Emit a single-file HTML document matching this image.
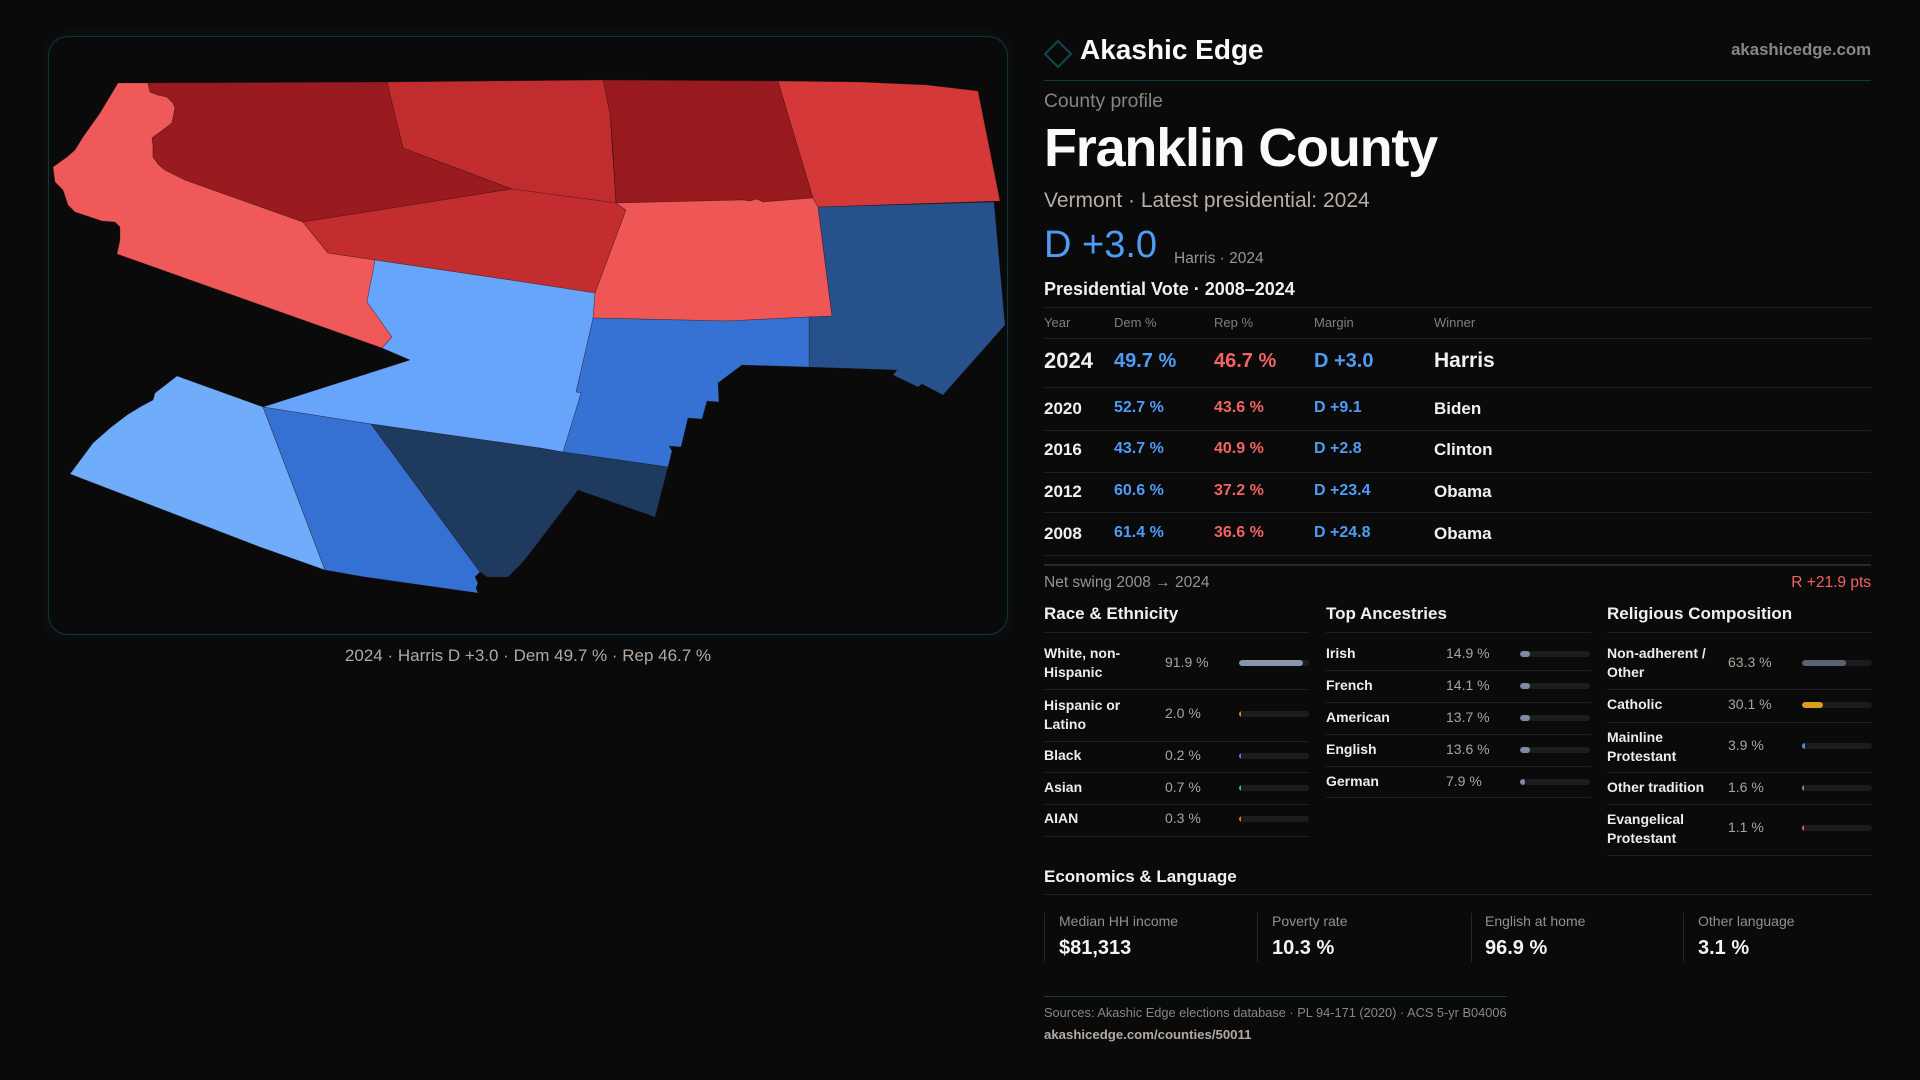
<!DOCTYPE html>
<html><head><meta charset="utf-8">
<style>
*{margin:0;padding:0;box-sizing:border-box}
html,body{width:1920px;height:1080px;background:#0a0a0b;overflow:hidden}
body{font-family:"Liberation Sans",sans-serif;color:#f2efec;position:relative}
.t{position:absolute;white-space:nowrap;line-height:1}
.b{font-weight:bold}
.r{position:absolute;height:1px;background:#1f1f21}
.lab{position:absolute;font-size:14px;line-height:19px;font-weight:bold;color:#efebe7;white-space:nowrap}
.val{position:absolute;font-size:14px;line-height:19px;color:#aca39a;white-space:nowrap}
.trk{position:absolute;width:70px;height:6px;border-radius:3px;background:#1c1c1e;overflow:hidden}
.fil{position:absolute;left:0;top:0;height:6px;border-radius:3px}
.blue{color:#4f9cf6}.red{color:#f26363}
.sb{position:absolute;top:913px;height:49px;border-left:1px solid #262628}
.sl{position:absolute;font-size:14px;color:#978f88;top:914px;white-space:nowrap;line-height:1}
.sv{position:absolute;font-size:20px;font-weight:bold;color:#f5f2ef;top:938px;white-space:nowrap;line-height:1}
</style></head><body>

<!-- Map panel -->
<div style="position:absolute;left:48px;top:36px;width:960px;height:599px;border:1px solid #12363d;border-radius:20px;background:#0b0a0b;box-shadow:0 0 14px rgba(20,80,95,0.18)"></div>
<svg style="position:absolute;left:0;top:0" width="1010" height="640" viewBox="0 0 1010 640">
<g stroke="rgba(40,20,20,0.5)" stroke-width="0.6" stroke-linejoin="round">
<polygon fill="#f05959" points="118,83 148,83 150,92 158,95 167,97 173,103 175,108 172,123 163,130 152,138 153,145 153,157 158,164 165,170 185,180 303,222 328,253 375,260 367,302 392,337 382,348 117,254 120,240 120,227 115,222 102,221 90,217 75,212 68,205 63,190 55,182 53,167 60,162 67,157 75,150 83,137 100,113"/>
<polygon fill="#991b1f" points="148,83 387,82 403,148 512,189 303,222 185,180 165,170 158,164 153,157 153,145 152,138 163,130 172,123 175,108 173,103 167,97 158,95 150,92"/>
<polygon fill="#c12c2f" points="387,82 603,80 610,113 616,203 512,189 403,148"/>
<polygon fill="#c42d30" points="303,222 512,189 616,203 626,210 595,293 510,280 375,260 328,253"/>
<polygon fill="#991a1e" points="603,80 778,81 813,198 763,202 757,199 750,201 743,200 616,203 613,150 610,113"/>
<polygon fill="#d43838" points="778,81 860,82 927,85 978,91 1000,201 818,207 813,198"/>
<polygon fill="#ef5656" points="616,203 743,200 750,201 757,199 763,202 813,198 818,207 832,316 808,317 727,321 593,318 595,293 626,210"/>
<polygon fill="#26518c" points="818,207 994,202 1005,325 943,395 922,384 918,387 893,375 897,370 809,367 809,317 832,316"/>
<polygon fill="#3672d3" points="593,318 727,321 809,317 809,367 742,365 718,383 719,402 707,401 702,419 688,418 681,447 669,446 672,451 668,467 563,452 581,393 576,392"/>
<polygon fill="#67a5fa" points="375,260 510,280 595,293 593,318 576,392 581,393 563,452 540,448 371,424 263,407 410,360 382,348 392,337 367,302"/>
<polygon fill="#6facfa" points="177,376 263,407 325,570 260,547 70,474 93,443 110,428 127,415 140,407 153,400 155,393"/>
<polygon fill="#3471d2" points="263,407 371,424 480,572 475,577 478,583 476,588 478,593 365,577 325,570"/>
<polygon fill="#1e3a5e" points="371,424 540,448 563,452 668,467 655,517 578,490 527,557 520,565 508,577 487,577 480,572"/>
</g>
</svg>
<div class="t" style="left:0;width:1056px;text-align:center;top:647px;font-size:17px;color:#b2aaa2">2024 · Harris D +3.0 · Dem 49.7 % · Rep 46.7 %</div>

<!-- Header -->
<svg style="position:absolute;left:1043px;top:39px" width="30" height="30" viewBox="0 0 30 30"><polygon points="15,2 28,15 15,28 2,15" fill="none" stroke="#0f4a52" stroke-width="2"/></svg>
<div class="t b" style="left:1080px;top:36px;font-size:28px;color:#fbfaf8">Akashic Edge</div>
<div class="t b" style="right:49px;top:42px;font-size:16.8px;color:#8c8580">akashicedge.com</div>
<div class="r" style="left:1044px;top:80px;width:827px;background:#103a42"></div>
<div class="t" style="left:1044px;top:92px;font-size:19.3px;color:#8a847f">County profile</div>
<div class="t b" style="left:1044px;top:121px;font-size:54px;letter-spacing:-1.2px;color:#fbfaf8">Franklin County</div>
<div class="t" style="left:1044px;top:190px;font-size:21px;color:#b8aea6">Vermont · Latest presidential: 2024</div>
<div class="t blue" style="left:1044px;top:226px;font-size:38px">D +3.0</div>
<div class="t" style="left:1174px;top:250.5px;font-size:15.5px;color:#9d958e">Harris · 2024</div>
<div class="t b" style="left:1044px;top:280px;font-size:18px">Presidential Vote · 2008–2024</div>

<!-- Table -->
<div class="r" style="left:1044px;top:307px;width:827px"></div>
<div class="t" style="left:1044px;top:316px;font-size:13px;color:#857e78">Year</div>
<div class="t" style="left:1114px;top:316px;font-size:13px;color:#857e78">Dem %</div>
<div class="t" style="left:1214px;top:316px;font-size:13px;color:#857e78">Rep %</div>
<div class="t" style="left:1314px;top:316px;font-size:13px;color:#857e78">Margin</div>
<div class="t" style="left:1434px;top:316px;font-size:13px;color:#857e78">Winner</div>
<div class="r" style="left:1044px;top:338px;width:827px"></div>

<div class="t b" style="left:1044px;top:350px;font-size:22px">2024</div>
<div class="t b blue" style="left:1114px;top:351px;font-size:20px">49.7 %</div>
<div class="t b red" style="left:1214px;top:351px;font-size:20px">46.7 %</div>
<div class="t b blue" style="left:1314px;top:351px;font-size:20px">D +3.0</div>
<div class="t b" style="left:1434px;top:350px;font-size:21px">Harris</div>
<div class="r" style="left:1044px;top:387px;width:827px"></div>

<div class="t b" style="left:1044px;top:400px;font-size:17px">2020</div>
<div class="t b blue" style="left:1114px;top:400px;font-size:16px">52.7 %</div>
<div class="t b red" style="left:1214px;top:400px;font-size:16px">43.6 %</div>
<div class="t b blue" style="left:1314px;top:400px;font-size:16px">D +9.1</div>
<div class="t b" style="left:1434px;top:400px;font-size:17px">Biden</div>
<div class="r" style="left:1044px;top:430px;width:827px"></div>

<div class="t b" style="left:1044px;top:441px;font-size:17px">2016</div>
<div class="t b blue" style="left:1114px;top:441px;font-size:16px">43.7 %</div>
<div class="t b red" style="left:1214px;top:441px;font-size:16px">40.9 %</div>
<div class="t b blue" style="left:1314px;top:441px;font-size:16px">D +2.8</div>
<div class="t b" style="left:1434px;top:441px;font-size:17px">Clinton</div>
<div class="r" style="left:1044px;top:472px;width:827px"></div>

<div class="t b" style="left:1044px;top:483px;font-size:17px">2012</div>
<div class="t b blue" style="left:1114px;top:483px;font-size:16px">60.6 %</div>
<div class="t b red" style="left:1214px;top:483px;font-size:16px">37.2 %</div>
<div class="t b blue" style="left:1314px;top:483px;font-size:16px">D +23.4</div>
<div class="t b" style="left:1434px;top:483px;font-size:17px">Obama</div>
<div class="r" style="left:1044px;top:512px;width:827px"></div>

<div class="t b" style="left:1044px;top:525px;font-size:17px">2008</div>
<div class="t b blue" style="left:1114px;top:525px;font-size:16px">61.4 %</div>
<div class="t b red" style="left:1214px;top:525px;font-size:16px">36.6 %</div>
<div class="t b blue" style="left:1314px;top:525px;font-size:16px">D +24.8</div>
<div class="t b" style="left:1434px;top:525px;font-size:17px">Obama</div>
<div class="r" style="left:1044px;top:555px;width:827px"></div>
<div class="r" style="left:1044px;top:564px;width:827px;height:2px;background:#29292b"></div>

<div class="t" style="left:1044px;top:574.5px;font-size:15.5px;color:#9a938d">Net swing 2008 → 2024</div>
<div class="t red" style="right:49px;top:574.5px;font-size:15.5px">R +21.9 pts</div>

<!-- Race -->
<div class="t b" style="left:1044px;top:605px;font-size:17px">Race &amp; Ethnicity</div>
<div class="r" style="left:1044px;top:632px;width:265px"></div>
<div class="lab" style="left:1044px;top:644px">White, non-<br>Hispanic</div>
<div class="val" style="left:1165px;top:653px">91.9 %</div>
<div class="trk" style="left:1239px;top:660px"><div class="fil" style="width:64px;background:#8996aa"></div></div>
<div class="r" style="left:1044px;top:689px;width:265px"></div>
<div class="lab" style="left:1044px;top:696px">Hispanic or<br>Latino</div>
<div class="val" style="left:1165px;top:704px">2.0 %</div>
<div class="trk" style="left:1239px;top:711px"><div class="fil" style="width:2px;background:#d9880f"></div></div>
<div class="r" style="left:1044px;top:741px;width:265px"></div>
<div class="lab" style="left:1044px;top:746px">Black</div>
<div class="val" style="left:1165px;top:746px">0.2 %</div>
<div class="trk" style="left:1239px;top:753px"><div class="fil" style="width:2px;background:#8b5cf6"></div></div>
<div class="r" style="left:1044px;top:772px;width:265px"></div>
<div class="lab" style="left:1044px;top:778px">Asian</div>
<div class="val" style="left:1165px;top:778px">0.7 %</div>
<div class="trk" style="left:1239px;top:785px"><div class="fil" style="width:2px;background:#22c08e"></div></div>
<div class="r" style="left:1044px;top:804px;width:265px"></div>
<div class="lab" style="left:1044px;top:809px">AIAN</div>
<div class="val" style="left:1165px;top:809px">0.3 %</div>
<div class="trk" style="left:1239px;top:816px"><div class="fil" style="width:2px;background:#e07a12"></div></div>
<div class="r" style="left:1044px;top:836px;width:265px"></div>

<!-- Ancestries -->
<div class="t b" style="left:1326px;top:605px;font-size:17px">Top Ancestries</div>
<div class="r" style="left:1326px;top:632px;width:265px"></div>
<div class="lab" style="left:1326px;top:644px">Irish</div>
<div class="val" style="left:1446px;top:644px">14.9 %</div>
<div class="trk" style="left:1520px;top:651px"><div class="fil" style="width:10px;background:#7d8ba0"></div></div>
<div class="r" style="left:1326px;top:670px;width:265px"></div>
<div class="lab" style="left:1326px;top:676px">French</div>
<div class="val" style="left:1446px;top:676px">14.1 %</div>
<div class="trk" style="left:1520px;top:683px"><div class="fil" style="width:10px;background:#7d8ba0"></div></div>
<div class="r" style="left:1326px;top:702px;width:265px"></div>
<div class="lab" style="left:1326px;top:708px">American</div>
<div class="val" style="left:1446px;top:708px">13.7 %</div>
<div class="trk" style="left:1520px;top:715px"><div class="fil" style="width:10px;background:#7d8ba0"></div></div>
<div class="r" style="left:1326px;top:734px;width:265px"></div>
<div class="lab" style="left:1326px;top:740px">English</div>
<div class="val" style="left:1446px;top:740px">13.6 %</div>
<div class="trk" style="left:1520px;top:747px"><div class="fil" style="width:10px;background:#7d8ba0"></div></div>
<div class="r" style="left:1326px;top:766px;width:265px"></div>
<div class="lab" style="left:1326px;top:772px">German</div>
<div class="val" style="left:1446px;top:772px">7.9 %</div>
<div class="trk" style="left:1520px;top:779px"><div class="fil" style="width:5px;background:#7d8ba0"></div></div>
<div class="r" style="left:1326px;top:797px;width:265px"></div>

<!-- Religion -->
<div class="t b" style="left:1607px;top:605px;font-size:17px">Religious Composition</div>
<div class="r" style="left:1607px;top:632px;width:265px"></div>
<div class="lab" style="left:1607px;top:644px">Non-adherent /<br>Other</div>
<div class="val" style="left:1728px;top:653px">63.3 %</div>
<div class="trk" style="left:1802px;top:660px"><div class="fil" style="width:44px;background:#5d6272"></div></div>
<div class="r" style="left:1607px;top:689px;width:265px"></div>
<div class="lab" style="left:1607px;top:695px">Catholic</div>
<div class="val" style="left:1728px;top:695px">30.1 %</div>
<div class="trk" style="left:1802px;top:702px"><div class="fil" style="width:21px;background:#d6a21e"></div></div>
<div class="r" style="left:1607px;top:722px;width:265px"></div>
<div class="lab" style="left:1607px;top:728px">Mainline<br>Protestant</div>
<div class="val" style="left:1728px;top:736px">3.9 %</div>
<div class="trk" style="left:1802px;top:743px"><div class="fil" style="width:3px;background:#4a8fe0"></div></div>
<div class="r" style="left:1607px;top:772px;width:265px"></div>
<div class="lab" style="left:1607px;top:778px">Other tradition</div>
<div class="val" style="left:1728px;top:778px">1.6 %</div>
<div class="trk" style="left:1802px;top:785px"><div class="fil" style="width:2px;background:#8a8a90"></div></div>
<div class="r" style="left:1607px;top:804px;width:265px"></div>
<div class="lab" style="left:1607px;top:810px">Evangelical<br>Protestant</div>
<div class="val" style="left:1728px;top:818px">1.1 %</div>
<div class="trk" style="left:1802px;top:825px"><div class="fil" style="width:2px;background:#e06060"></div></div>
<div class="r" style="left:1607px;top:855px;width:265px"></div>

<!-- Economics -->
<div class="t b" style="left:1044px;top:868px;font-size:17px">Economics &amp; Language</div>
<div class="r" style="left:1044px;top:894px;width:828px"></div>
<div class="sb" style="left:1044px"></div>
<div class="sb" style="left:1257px"></div>
<div class="sb" style="left:1471px"></div>
<div class="sb" style="left:1683px"></div>
<div class="sl" style="left:1059px">Median HH income</div>
<div class="sv" style="left:1059px">$81,313</div>
<div class="sl" style="left:1272px">Poverty rate</div>
<div class="sv" style="left:1272px">10.3 %</div>
<div class="sl" style="left:1485px">English at home</div>
<div class="sv" style="left:1485px">96.9 %</div>
<div class="sl" style="left:1698px">Other language</div>
<div class="sv" style="left:1698px">3.1 %</div>

<!-- Footer -->
<div class="r" style="left:1044px;top:996px;width:463px;background:#0f3c44"></div>
<div class="t" style="left:1044px;top:1007px;font-size:12.8px;color:#8d857e">Sources: Akashic Edge elections database · PL 94-171 (2020) · ACS 5-yr B04006</div>
<div class="t b" style="left:1044px;top:1028px;font-size:13.2px;color:#b3aaa2">akashicedge.com/counties/50011</div>

</body></html>
